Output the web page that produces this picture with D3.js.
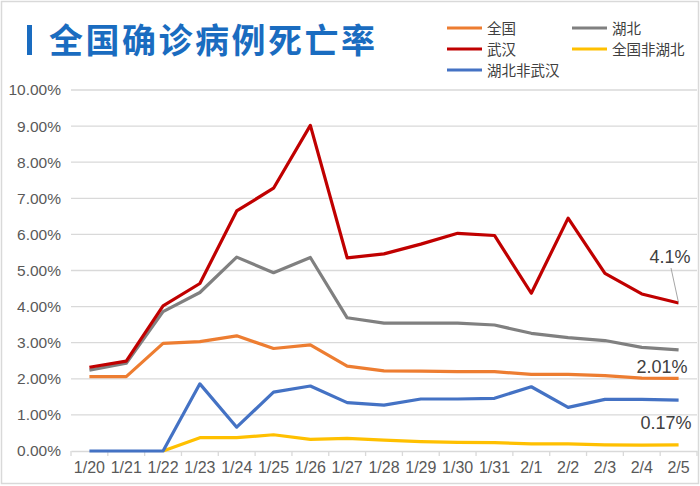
<!DOCTYPE html>
<html><head><meta charset="utf-8">
<script src="https://cdn.jsdelivr.net/npm/d3@7"></script>
<style>
html,body{margin:0;padding:0;background:#fff;}
svg{display:block;font-family:"Liberation Sans",Arial,sans-serif;}
</style></head>
<body>
<svg id="chart" width="700" height="486"></svg>
<script>
const dates = ["1/20","1/21","1/22","1/23","1/24","1/25","1/26","1/27","1/28","1/29","1/30","1/31","2/1","2/2","2/3","2/4","2/5"];
const national = [2.06,2.06,2.98,3.03,3.19,2.84,2.94,2.35,2.22,2.21,2.20,2.20,2.12,2.12,2.09,2.02,2.01];
const hubei = [2.24,2.43,3.86,4.39,5.37,4.94,5.36,3.69,3.54,3.54,3.54,3.49,3.26,3.14,3.06,2.87,2.80];
const wuhan = [2.32,2.49,4.02,4.64,6.65,7.28,9.02,5.35,5.46,5.73,6.03,5.97,4.37,6.45,4.92,4.35,4.10];
const nonHubei = [null,null,0,0.37,0.37,0.45,0.32,0.35,0.30,0.26,0.24,0.23,0.20,0.20,0.17,0.16,0.17];
const hubeiNonWuhan = [0,0,0,1.86,0.66,1.63,1.80,1.34,1.27,1.44,1.44,1.46,1.78,1.21,1.43,1.43,1.41];
const yTicks = [0,1,2,3,4,5,6,7,8,9,10];

const seriesNames = ["全国","湖北","武汉","全国非湖北","湖北非武汉"];
const seriesColors = ["#ED7D31","#808080","#C00000","#FFC000","#4472C4"];
const seriesData = [national,hubei,wuhan,nonHubei,hubeiNonWuhan];

const svg = d3.select("#chart");
const W = 700, H = 486;
const m = {left:71, right:697, top:90, bottom:451};

// border
svg.append("rect").attr("x",1.5).attr("y",1.5).attr("width",W-3).attr("height",H-4)
  .attr("fill","#fff").attr("stroke","#d9d9d9").attr("stroke-width",1.5);

// title
svg.append("rect").attr("x",27).attr("y",25).attr("width",5).attr("height",30).attr("fill","#1a6cc0");
svg.append("text").attr("x",49).attr("y",53).attr("font-family","'Noto Sans CJK SC',sans-serif")
  .attr("font-size",34).attr("font-weight","bold").attr("fill","#1a6cc0")
  .attr("letter-spacing",2.5).text("全国确诊病例死亡率");

const x = d3.scaleBand().domain(dates).range([m.left, m.right]);
const y = d3.scaleLinear().domain([0,10]).range([m.bottom, m.top]);

// grid
svg.append("g").selectAll("line").data(yTicks.filter(d=>d>0)).join("line")
  .attr("x1",m.left).attr("x2",m.right)
  .attr("y1",d=>y(d)).attr("y2",d=>y(d))
  .attr("stroke","#d9d9d9").attr("stroke-width",1.3);

// y axis labels
const yAxis = d3.axisLeft(y).tickValues(yTicks).tickSize(0).tickPadding(10)
  .tickFormat(d=>d.toFixed(2)+"%");
const gy = svg.append("g").attr("transform",`translate(${m.left},0)`).call(yAxis);
gy.select(".domain").remove();
gy.selectAll("text").attr("font-size",15.5).attr("fill","#595959").attr("font-family","'Liberation Sans',Arial,sans-serif");

// x axis
const xAxis = d3.axisBottom(x).tickSize(0).tickPadding(11);
const gx = svg.append("g").attr("transform",`translate(0,${m.bottom})`).call(xAxis);
gx.select(".domain").attr("stroke","#d9d9d9").attr("stroke-width",1.3);
gx.selectAll("text").attr("font-size",16).attr("fill","#595959").attr("font-family","'Liberation Sans',Arial,sans-serif");
// category boundary ticks
const bounds = dates.map(d=>x(d)).concat([x(dates[dates.length-1])+x.bandwidth()]);
svg.append("g").selectAll("line").data(bounds).join("line")
  .attr("x1",d=>d).attr("x2",d=>d).attr("y1",m.bottom).attr("y2",m.bottom+5)
  .attr("stroke","#d9d9d9").attr("stroke-width",1.3);

// lines
const cx = d => x(d) + x.bandwidth()/2;
const line = d3.line().defined(d=>d.v!==null).x(d=>cx(d.date)).y(d=>y(d.v));
const order = [3,4,0,1,2];
order.forEach(i=>{
  const pts = dates.map((dt,j)=>({date:dt, v:seriesData[i][j]}));
  svg.append("path").datum(pts).attr("d",line).attr("fill","none")
    .attr("stroke",seriesColors[i]).attr("stroke-width",3.2)
    .attr("stroke-linejoin","round").attr("stroke-linecap","butt");
});

// data labels
const last = dates.length-1;
const lx = cx(dates[last]);
svg.append("line").attr("x1",671).attr("y1",268).attr("x2",lx).attr("y2",y(wuhan[last]))
  .attr("stroke","#a6a6a6").attr("stroke-width",1);
svg.append("text").attr("x",670).attr("y",263).attr("text-anchor","middle")
  .attr("font-size",18).attr("fill","#404040").text(wuhan[last].toFixed(1)+"%");
svg.append("text").attr("x",662).attr("y",373).attr("text-anchor","middle")
  .attr("font-size",18).attr("fill","#404040").text(national[last].toFixed(2)+"%");
svg.append("text").attr("x",666).attr("y",429).attr("text-anchor","middle")
  .attr("font-size",18).attr("fill","#404040").text(nonHubei[last].toFixed(2)+"%");

// legend
const legendPos = [[447,28],[572,28],[447,49],[572,49],[447,70]];
const lg = svg.append("g");
seriesNames.forEach((n,i)=>{
  const [lx0,ly0] = legendPos[i];
  lg.append("line").attr("x1",lx0).attr("x2",lx0+35).attr("y1",ly0).attr("y2",ly0)
    .attr("stroke",seriesColors[i]).attr("stroke-width",3.2);
  lg.append("text").attr("x",lx0+40).attr("y",ly0+5.5)
    .attr("font-family","'Noto Sans CJK SC',sans-serif")
    .attr("font-size",14.5).attr("fill","#404040").text(n);
});
</script>
</body></html>
